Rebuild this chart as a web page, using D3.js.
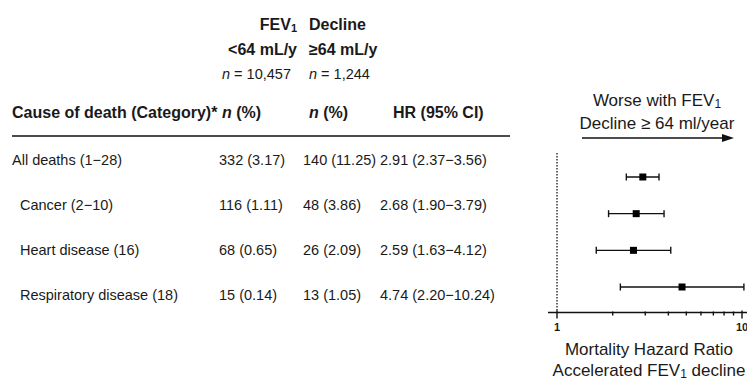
<!DOCTYPE html>
<html>
<head>
<meta charset="utf-8">
<script src="https://cdn.jsdelivr.net/npm/d3@7"></script>
<style>
body { margin: 0; background: #fff; }
text { font-family: "Liberation Sans", Arial, sans-serif; fill: #1a1a1a; }
</style>
</head>
<body>
<div id="chart"></div>
<script>
var causes = ["All deaths (1\u221228)", "Cancer (2\u221210)", "Heart disease (16)", "Respiratory disease (18)"]
var level = [0, 1, 1, 1]
var slowCount = [332, 116, 68, 15]
var slowPct = [3.17, 1.11, 0.65, 0.14]
var fastCount = [140, 48, 26, 13]
var fastPct = [11.25, 3.86, 2.09, 1.05]
var hr = [2.91, 2.68, 2.59, 4.74]
var hrLow = [2.37, 1.90, 1.63, 2.20]
var hrHigh = [3.56, 3.79, 4.12, 10.24]
var slowTotal = "10,457"
var fastTotal = "1,244"
var axisTicks = [1, 2, 3, 4, 5, 6, 7, 8, 9, 10]

var width = 747
var height = 379
var svg = d3.select("#chart").append("svg").attr("width", width).attr("height", height)

var rows = causes.map(function(c, i) {
    return {cause: c, level: level[i], sc: slowCount[i], sp: slowPct[i], fc: fastCount[i], fp: fastPct[i],
        hr: hr[i], lo: hrLow[i], hi: hrHigh[i]}
})

// table columns
var colLabel = 12, col1 = 219, col2 = 303, col3 = 380, col2Head = 309
var yRow = d3.scalePoint().domain(causes).range([160, 295])

var tbl = svg.append("g")

function boldText(x, y, anchor) {
    return tbl.append("text").attr("x", x).attr("y", y).attr("dominant-baseline", "central")
        .attr("text-anchor", anchor).style("font-size", "16px").style("font-weight", "bold")
}

var t = boldText(297, 24, "end")
t.append("tspan").text("FEV")
t.append("tspan").attr("dy", 4).style("font-size", "11px").text("1")
boldText(col2Head, 24, "start").text("Decline")
boldText(297, 49, "end").text("<64 mL/y")
boldText(col2Head, 49, "start").text("\u226564 mL/y")

function nTotal(x, val) {
    var tt = tbl.append("text").attr("x", x).attr("y", 74).attr("dominant-baseline", "central").style("font-size", "14.5px")
    tt.append("tspan").style("font-style", "italic").text("n")
    tt.append("tspan").text(" = " + val)
}
nTotal(222, slowTotal)
nTotal(col2Head, fastTotal)

boldText(colLabel, 112, "start").text("Cause of death (Category)*")
var h1 = boldText(222, 112, "start")
h1.append("tspan").style("font-style", "italic").text("n")
h1.append("tspan").text(" (%)")
var h2 = boldText(col2Head, 112, "start")
h2.append("tspan").style("font-style", "italic").text("n")
h2.append("tspan").text(" (%)")
boldText(393, 112, "start").text("HR (95% CI)")

tbl.append("line").attr("x1", 12).attr("x2", 510).attr("y1", 136).attr("y2", 136)
    .attr("stroke", "#111").attr("stroke-width", 1.6)

var rowG = tbl.selectAll(".row").data(rows).enter().append("g").attr("class", "row")
    .attr("transform", function(d) { return "translate(0," + yRow(d.cause) + ")" })
rowG.append("text").attr("x", function(d) { return colLabel + d.level * 8 })
    .attr("dominant-baseline", "central").style("font-size", "14.5px").text(function(d) { return d.cause })
rowG.append("text").attr("x", col1).attr("dominant-baseline", "central").style("font-size", "14.5px")
    .text(function(d) { return d.sc + " (" + d.sp.toFixed(2) + ")" })
rowG.append("text").attr("x", col2).attr("dominant-baseline", "central").style("font-size", "14.5px")
    .text(function(d) { return d.fc + " (" + d.fp.toFixed(2) + ")" })
rowG.append("text").attr("x", col3).attr("dominant-baseline", "central").style("font-size", "14.5px")
    .text(function(d) { return d.hr.toFixed(2) + " (" + d.lo.toFixed(2) + "\u2212" + d.hi.toFixed(2) + ")" })

// forest plot
var x = d3.scaleLog().domain([1, 10]).range([557, 742])
var yF = d3.scalePoint().domain(causes).range([177, 287])
var axisY = 312.5
var fp = svg.append("g")

fp.append("line").attr("x1", x(1)).attr("x2", x(1)).attr("y1", 153).attr("y2", axisY)
    .attr("stroke", "#333").attr("stroke-width", 1.5).attr("stroke-dasharray", "1.5,1.5")

var bars = fp.selectAll(".ci").data(rows).enter().append("g").attr("class", "ci")
    .attr("transform", function(d) { return "translate(0," + yF(d.cause) + ")" })
bars.append("line").attr("x1", function(d) { return x(d.lo) }).attr("x2", function(d) { return x(d.hi) })
    .attr("stroke", "#111").attr("stroke-width", 1.4)
bars.append("line").attr("x1", function(d) { return x(d.lo) }).attr("x2", function(d) { return x(d.lo) })
    .attr("y1", -3.5).attr("y2", 3.5).attr("stroke", "#111").attr("stroke-width", 1.4)
bars.append("line").attr("x1", function(d) { return x(d.hi) }).attr("x2", function(d) { return x(d.hi) })
    .attr("y1", -3.5).attr("y2", 3.5).attr("stroke", "#111").attr("stroke-width", 1.4)
bars.append("rect").attr("x", function(d) { return x(d.hr) - 3.5 }).attr("y", -3.5)
    .attr("width", 7).attr("height", 7).attr("fill", "#000")

// axis
fp.append("line").attr("x1", 548).attr("x2", 747).attr("y1", axisY).attr("y2", axisY)
    .attr("stroke", "#111").attr("stroke-width", 1.5)
fp.selectAll(".tick").data(axisTicks).enter().append("line").attr("class", "tick")
    .attr("x1", function(d) { return x(d) }).attr("x2", function(d) { return x(d) })
    .attr("y1", function(d) { return d == 1 || d == 10 ? axisY - 2 : axisY - 1 })
    .attr("y2", function(d) { return d == 1 || d == 10 ? axisY + 6 : axisY + 3 })
    .attr("stroke", "#111").attr("stroke-width", 1.4)
fp.selectAll(".tlab").data(axisTicks.filter(function(d) { return d == 1 || d == 10 })).enter()
    .append("text").attr("class", "tlab")
    .attr("x", function(d) { return x(d) }).attr("y", 327).attr("text-anchor", "middle")
    .attr("dominant-baseline", "central").style("font-size", "11px").style("font-weight", "bold")
    .text(function(d) { return d })

// header above forest plot
var hx = 657
var w1 = fp.append("text").attr("x", hx).attr("y", 100).attr("text-anchor", "middle")
    .attr("dominant-baseline", "central").style("font-size", "17px")
w1.append("tspan").text("Worse with FEV")
w1.append("tspan").attr("dy", 4).style("font-size", "12px").text("1")
fp.append("text").attr("x", hx).attr("y", 123).attr("text-anchor", "middle")
    .attr("dominant-baseline", "central").style("font-size", "17px").text("Decline \u2265 64 ml/year")
fp.append("line").attr("x1", 582).attr("x2", 724).attr("y1", 138).attr("y2", 138)
    .attr("stroke", "#111").attr("stroke-width", 1.6)
fp.append("path").attr("d", "M722,134 L734,138 L722,142 Z").attr("fill", "#111")

// axis title
var ax = 649
fp.append("text").attr("x", ax).attr("y", 349).attr("text-anchor", "middle")
    .attr("dominant-baseline", "central").style("font-size", "17px").text("Mortality Hazard Ratio")
var a2 = fp.append("text").attr("x", ax).attr("y", 370).attr("text-anchor", "middle")
    .attr("dominant-baseline", "central").style("font-size", "17px")
a2.append("tspan").text("Accelerated FEV")
a2.append("tspan").attr("dy", 4).style("font-size", "12px").text("1")
a2.append("tspan").attr("dy", -4).text(" decline")
</script>
</body>
</html>
